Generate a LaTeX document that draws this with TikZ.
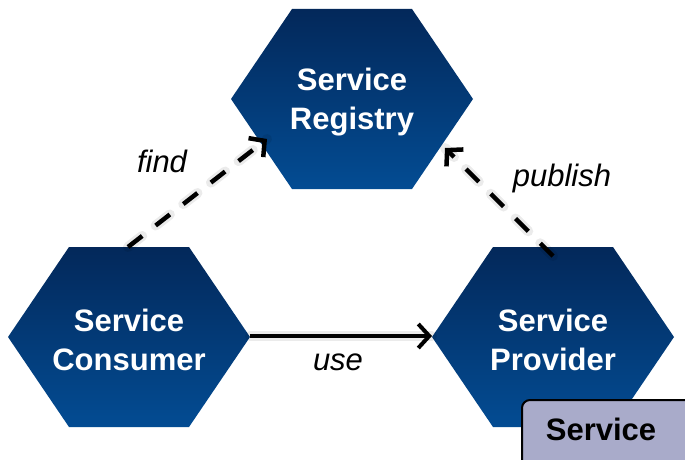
\documentclass[tikz,border=0pt]{standalone}
\usepackage{fontspec}
\setmainfont{Liberation Sans}
\usetikzlibrary{arrows.meta}
\definecolor{hextop}{HTML}{03285A}
\definecolor{hexbot}{HTML}{034C93}
\definecolor{svcfill}{HTML}{A9ABCA}
\tikzset{
  hexa/.pic={
    \shade[top color=hextop, bottom color=hexbot]
      (-121,0) -- (-60,-90) -- (60,-90) -- (121,0) -- (60,90) -- (-60,90) -- cycle;
  },
  hextext/.style={text=white, align=center, font=\bfseries\fontsize{31}{39}\selectfont},
  lbl/.style={anchor=base, font=\itshape\fontsize{31}{37}\selectfont},
  dasharrow/.style={line width=4.5pt, dash pattern=on 18pt off 17pt, -{Straight Barb[length=11pt,width=24pt]}},
  solidarrow/.style={line width=4pt, -{Straight Barb[length=11pt,width=24pt]}},
  shadowline/.style={line width=10pt, draw=black, opacity=0.08, line cap=round},
  svcbox/.style={fill=svcfill, draw=black, line width=2pt, rounded corners=8pt}
}
\begin{document}
\begin{tikzpicture}[x=1pt, y=-1pt]
\useasboundingbox (0,0) rectangle (685,460);
% hexagons
\pic at (352,99) {hexa};
\pic at (129,337) {hexa};
\pic at (553,337) {hexa};
\node[hextext] (reg) at (352,102) {Service\\Registry};
\node[hextext] (con) at (129,340) {Service\\Consumer};
\node[hextext] (prov) at (553,340) {Service\\Provider};
% connector end points
\coordinate (findS) at (128,247);
\coordinate (findE) at (267,139);
\coordinate (pubS) at (553,256);
\coordinate (pubE) at (445,148);
\coordinate (useS) at (250,336);
\coordinate (useE) at (432,336);
% shadows
\draw[shadowline, dash pattern=on 18pt off 17pt, shift={(4,5)}] (findS) -- (findE);
\draw[shadowline, dash pattern=on 18pt off 17pt, shift={(4,5)}] (pubS) -- (pubE);
\draw[shadowline, shift={(3,5)}] (useS) -- (useE);
% arrows
\draw[dasharrow] (findS) -- (findE);
\draw[dasharrow] (pubS) -- (pubE);
\draw[solidarrow] (useS) -- (useE);
% labels
\node[lbl] (find) at (162,172) {find};
\node[lbl] (publish) at (562,186) {publish};
\node[lbl] (use) at (338,370) {use};
% service box
\draw[svcbox] (522,400) rectangle (700,480);
\node[font=\bfseries\fontsize{31}{37}\selectfont] (svc) at (601,429) {Service};
\end{tikzpicture}
\end{document}
